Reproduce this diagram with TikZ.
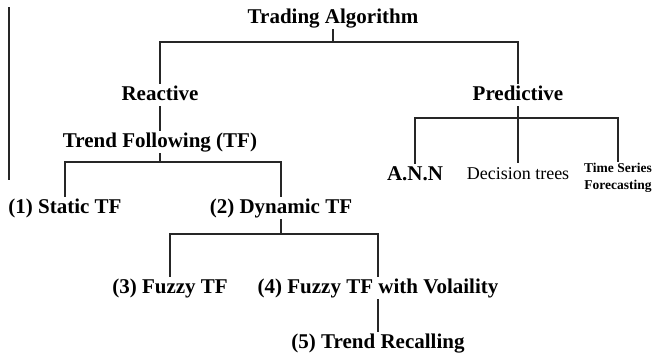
\documentclass[tikz,border=0pt]{standalone}
\usepackage{fontspec}
\setmainfont{Liberation Serif}
\begin{document}
\begin{tikzpicture}[x=1pt,y=-1pt,
    item/.style={font=\fontsize{21}{25}\selectfont\bfseries,anchor=base,inner sep=2pt,text height=14pt,text depth=4pt},
    link/.style={draw=black!85,line width=1.2pt}]
    \useasboundingbox (0,0) rectangle (654,359);

    \node[item] (algo) at (333,23) {Trading Algorithm};
    \node[item] (react) at (160,100) {Reactive};
    \node[item] (pred) at (518,100) {Predictive};
    \node[item] (trend) at (160,147) {Trend Following (TF)};
    \node[item] (ann) at (415,180) {A.N.N};
    \node[item,font=\fontsize{18}{22}\selectfont] (dec) at (518,179) {Decision trees};
    \node[font=\fontsize{13.5}{17}\selectfont\bfseries,align=center,inner sep=1pt,anchor=north] (tsf) at (618,162) {Time Series\\Forecasting};
    \node[item] (static) at (65,213) {(1) Static TF};
    \node[item] (dynamic) at (281,213) {(2) Dynamic TF};
    \node[item] (fuzzy) at (170,293) {(3) Fuzzy TF};
    \node[item] (vol) at (378,293) {(4) Fuzzy TF with Volaility};
    \node[item] (recall) at (378,348) {(5) Trend Recalling};

    \coordinate (f1) at (333,42);
    \coordinate (f2) at (160,162);
    \coordinate (f3) at (518,118);
    \coordinate (f4) at (281,234);

    \draw[link] (algo.south) -- (f1);
    \draw[link] (react.north) |- (f1) -| (pred.north);
    \draw[link] (react.south) -- (trend.north);
    \draw[link] (trend.south) -- (f2);
    \draw[link] (static.north) |- (f2) -| (dynamic.north);
    \draw[link] (pred.south) -- (f3);
    \draw[link] (ann.north) |- (f3) -| (tsf.north);
    \draw[link] (dec.north) -- (dec.north |- f3);
    \draw[link] (dynamic.south) -- (f4);
    \draw[link] (fuzzy.north) |- (f4) -| (vol.north);
    \draw[link] (vol.south) -- (recall.north);

    % page edge
    \draw[link] (9,7) -- (9,180);
\end{tikzpicture}
\end{document}
